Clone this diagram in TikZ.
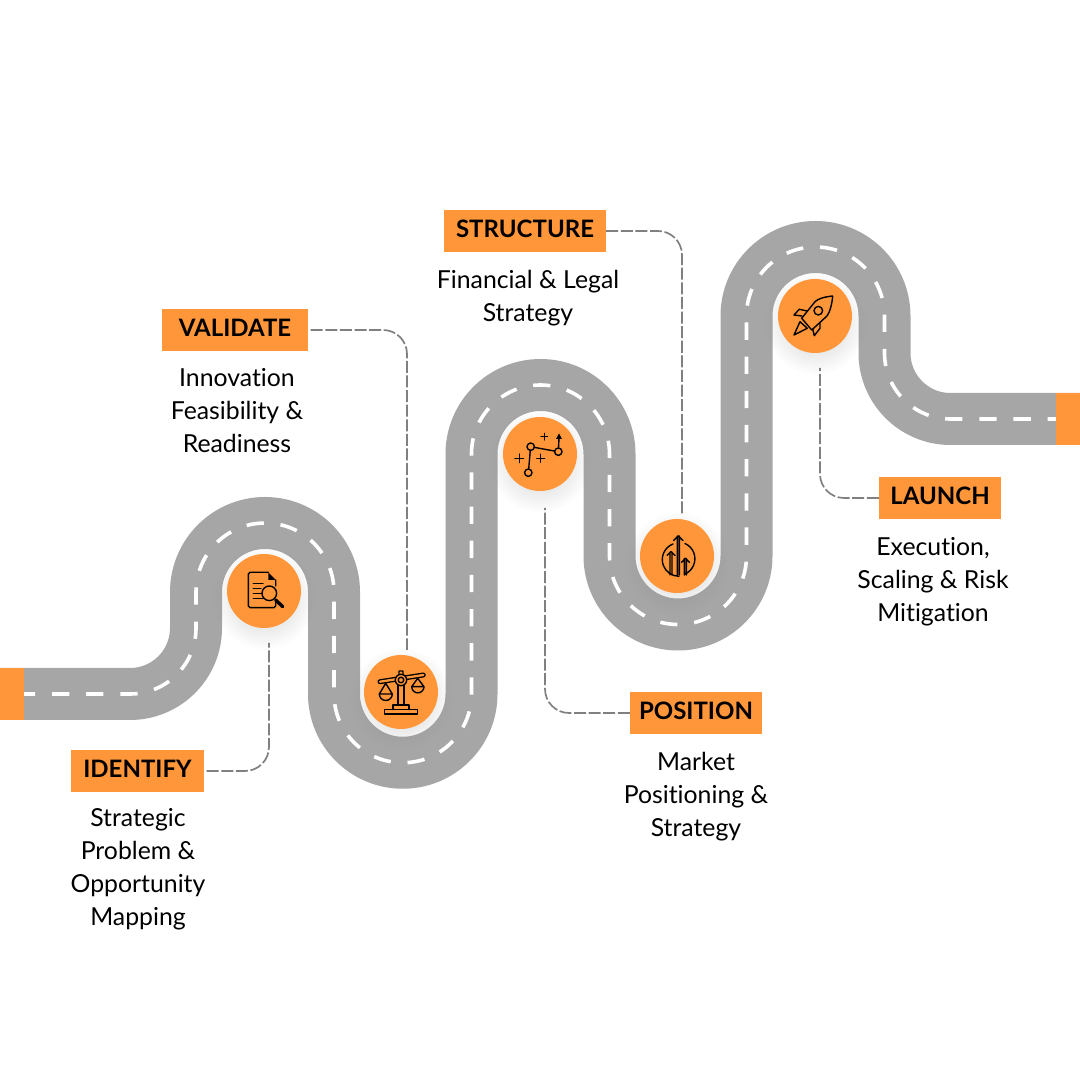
\documentclass[tikz,border=0pt]{standalone}
\usepackage{fontspec}
\setmainfont{Lato}[Ligatures=NoCommon]
\usepackage{xcolor}
\usetikzlibrary{shadows, fadings}
\definecolor{accent}{HTML}{FF973A}
\definecolor{roadgray}{HTML}{A6A6A6}
\definecolor{leadgray}{HTML}{808080}
\tikzfading[name=softdisc, inner color=transparent!0, outer color=transparent!100]
\tikzset{
  road/.style={draw=roadgray, line width=52pt,
               postaction={draw=white, line width=3.6pt, dash pattern=on 17.3pt off 16.87pt, dash phase=16.34pt}},
  tag/.style={fill=accent, minimum height=42pt, inner sep=0pt, text height=17pt, text depth=4pt,
              font=\fontsize{24}{28}\selectfont\bfseries},
  body/.style={align=center, inner sep=0pt, font=\fontsize{24.8}{33}\selectfont},
  stop/.style={circle, fill=accent, minimum size=74pt, inner sep=0pt,
               drop shadow={shape=circle, shadow xshift=0pt, shadow yshift=-5pt, shadow scale=1.4, opacity=.4,
                            path fading=softdisc}},
  lead/.style={draw=leadgray, line width=1.7pt, dash pattern=on 12pt off 2.6pt, rounded corners=24pt},
  icon/.style={line width=1.4pt, line join=round, line cap=round}
}
\begin{document}
\begin{tikzpicture}[x=1pt, y=1pt]
  \useasboundingbox (0,0) rectangle (1080,1080);
  % Road
  \path[road] (0,386) -- (130,386) arc[start angle=-90, end angle=0, radius=66] -- (196,488)
    arc[start angle=180, end angle=0, radius=69] -- (334,386)
    arc[start angle=180, end angle=360, radius=68.75] -- (471.5,626)
    arc[start angle=180, end angle=0, radius=69] -- (609.5,524)
    arc[start angle=180, end angle=360, radius=68.5] -- (746.5,764)
    arc[start angle=180, end angle=0, radius=69] -- (884.5,727)
    arc[start angle=180, end angle=270, radius=66] -- (1080,661);
  \node[fill=accent, minimum width=24pt, minimum height=52pt, inner sep=0pt] (startcap) at (12,386) {};
  \node[fill=accent, minimum width=24pt, minimum height=52pt, inner sep=0pt] (endcap) at (1068,661) {};
  % Stops
  \node[stop] (identifystop) at (264,489) {};
  \node[stop] (validatestop) at (401,388) {};
  \node[stop] (structurestop) at (677,524) {};
  \node[stop] (positionstop) at (540,626) {};
  \node[stop] (launchstop) at (815,764) {};
  % Tags
  \node[tag, minimum width=133pt] (identify) at (137.5,309) {IDENTIFY};
  \node[tag, minimum width=146pt] (validate) at (235,750) {VALIDATE};
  \node[tag, minimum width=162pt] (structure) at (525,849) {STRUCTURE};
  \node[tag, minimum width=132pt] (position) at (696,367) {POSITION};
  \node[tag, minimum width=122pt] (launch) at (940,582) {LAUNCH};
  % Texts
  \node[body] (identifytext) at (138,210.5) {Strategic\\Problem \&\\Opportunity\\Mapping};
  \node[body] (validatetext) at (237,669) {Innovation\\Feasibility \&\\Readiness};
  \node[body] (structuretext) at (528,781.5) {Financial \& Legal\\Strategy};
  \node[body] (positiontext) at (696,283) {Market\\Positioning \&\\Strategy};
  \node[body] (launchtext) at (933,498) {Execution,\\Scaling \& Risk\\Mitigation};
  % Leaders
  \coordinate (identifyend) at (269,437);
  \coordinate (validateend) at (407,430);
  \coordinate (structureend) at (682,565);
  \coordinate (positionend) at (545,572);
  \coordinate (launchend) at (820,712);
  \draw[lead, shorten <=2.5pt] (identify.east) -| (identifyend);
  \draw[lead, shorten <=2.5pt] (validate.east) -| (validateend);
  \draw[lead] (structure.east) -| (structureend);
  \draw[lead] (position.west) -| (positionend);
  \draw[lead] (launch.west) -| (launchend);
  % Icon: document and lens
  \begin{scope}[icon, shift={(identifystop.center)}, yscale=-1]
    \draw (11.7,-11) -- (11.7,-5) (11.7,9) -- (11.7,15) arc[start angle=0, end angle=90, radius=1.7] -- (-14,16.7)
      arc[start angle=90, end angle=180, radius=1.7] -- (-15.7,-17) arc[start angle=180, end angle=270, radius=1.7] -- (4.3,-18.7);
    \fill (4.3,-18.7) -- (11.7,-11) -- (4.3,-11) -- cycle;
    \draw (-10.7,-7.7) -- (-1,-7.7) (-10.7,-2.7) -- (-3,-2.7) (-10.7,2.3) -- (-2,2.3) (-10.7,7.3) -- (-1,7.3);
    \draw (5.3,2.3) circle[radius=7.3];
    \draw[line width=3.4pt] (11.5,8.8) -- (18.7,15.7);
  \end{scope}
  % Icon: scales
  \begin{scope}[icon, shift={(validatestop.center)}, yscale=-1]
    \draw[line width=5pt] (-21,-10.3) -- (22.3,-17);
    \draw[line width=2.3pt, accent] (-21,-10.3) -- (22.3,-17);
    \draw (-3,-7) -- (-3,13) (3,-7) -- (3,13) (-8,17.5) -- (-8,13) -- (8,13) -- (8,17.5);
    \draw (-16.7,17.5) rectangle (16.7,22);
    \draw[fill=accent] (0,-12) circle[radius=5.7];
    \draw (0,-12) circle[radius=2.8] (-2,-17.5) -- (-2,-21) -- (2,-21) -- (2,-17.5);
    \draw (-15.3,-8.7) -- (-21.7,2) arc[start angle=180, end angle=0, radius=6.5] -- cycle (-21.7,2) -- (-8.7,2);
    \draw (16.7,-13.7) -- (10.7,-5.3) arc[start angle=180, end angle=0, radius=6.15] -- cycle (10.7,-5.3) -- (23,-5.3);
  \end{scope}
  % Icon: rising arrows
  \begin{scope}[icon, shift={(structurestop.center)}, yscale=-1]
    \draw (-4,-12) arc[start angle=249, end angle=90, radius=16.7];
    \draw (8,-12.5) arc[start angle=-66, end angle=66, radius=16.7];
    \draw (0.3,19) -- (0.3,-20) (2.3,19) -- (2.3,-20) (-3.5,-15.5) -- (1.3,-20) -- (6,-15.5);
    \draw (-7,19) -- (-7,-4) (-5,19) -- (-5,-4) (-10,-0.5) -- (-6,-4.5) -- (-2,-0.5);
    \draw (7.3,19) -- (7.3,2.5) (9.3,19) -- (9.3,2.5) (4.5,6.5) -- (8.3,2.3) -- (12.5,6.5);
  \end{scope}
  % Icon: route
  \begin{scope}[icon, shift={(positionstop.center)}, yscale=-1]
    \draw (-6,-6.7) -- (14.7,-2.9) (-9.7,-3.7) -- (-11.3,15) (18.5,-6) -- (19,-16);
    \fill (19,-20.5) -- (22,-15) -- (16,-15) -- cycle;
    \draw (-9.3,-7.3) circle[radius=3.7] (18.3,-2.3) circle[radius=3.7] (-11.7,18.7) circle[radius=3.7];
    \draw (1,-17.3) -- (7.6,-17.3) (4.3,-20.6) -- (4.3,-14);
    \draw (-25,4.3) -- (-16.4,4.3) (-20.7,0) -- (-20.7,8.6);
    \draw (-3.3,4.3) -- (4.7,4.3) (0.7,0.3) -- (0.7,8.3);
  \end{scope}
  % Icon: rocket
  \begin{scope}[icon, shift={(launchstop.center)}, yscale=-1]
    \draw (17.7,-20) .. controls (8,-19) and (3,-17) .. (0,-14.3) -- (-13.3,2.3) -- (-3.3,14) -- (12,0)
      .. controls (15,-4) and (17,-12) .. (17.7,-20);
    \draw (3.3,-5.3) circle[radius=4.3];
    \draw (-8,-5) -- (-15.7,-6.7) -- (-21,-1) -- (-13,0);
    \draw (5,7.3) -- (5,12.3) -- (-0.7,19.7) -- (-2.3,13);
    \draw (-21,19) -- (-15,5.7) -- (-7.7,12.3) -- cycle;
  \end{scope}
\end{tikzpicture}
\end{document}
